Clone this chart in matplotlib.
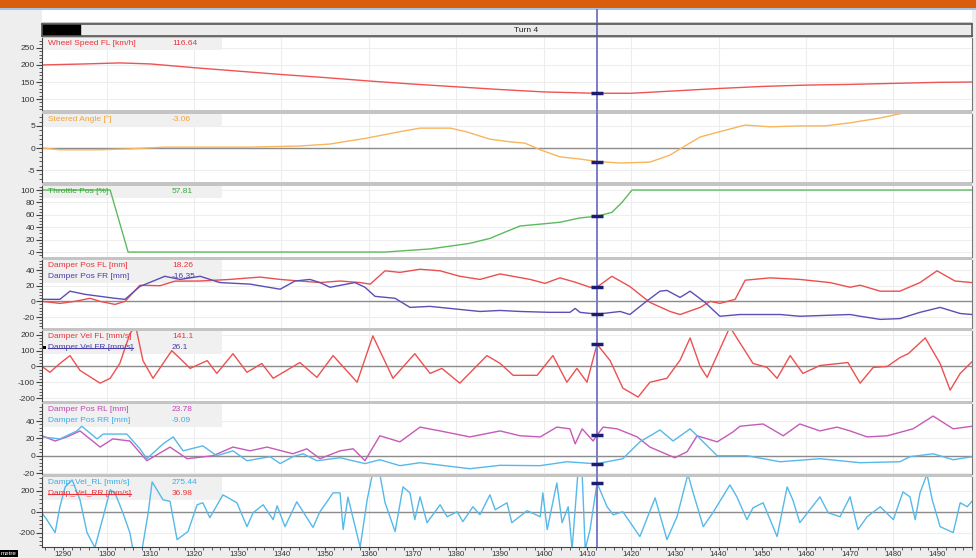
import numpy as np
import matplotlib
matplotlib.use("Agg")
import matplotlib.pyplot as plt
from matplotlib.patches import Rectangle
from matplotlib.lines import Line2D
from matplotlib.ticker import FixedLocator, MultipleLocator, AutoMinorLocator
from matplotlib.transforms import IdentityTransform, blended_transform_factory

plt.rcParams['font.family'] = ['Liberation Sans', 'DejaVu Sans']

# distance axis [metre]
x_range = (1285.2, 1498.0)
cursor_x = 1412.2
x_ticks = list(range(1290, 1500, 10))
segments = [(1280.0, 1294.0, ''), (1294.0, 1500.0, 'Turn 4')]

# Wheel Speed FL [km/h]
speed_x = [1285.2, 1295, 1303, 1310, 1320, 1330, 1340, 1350, 1360, 1370, 1380, 1390,
           1400, 1412, 1420, 1430, 1440, 1450, 1460, 1470, 1480, 1490, 1498]
speed_v = [200, 203, 206, 203, 192, 182, 172, 163, 153, 144, 136, 128,
           121, 117, 117, 124, 131, 137, 141, 143, 146, 149, 150]

# Steered Angle [deg]
steer_x = [1285.2, 1289.3, 1298.5, 1305.3, 1313.3, 1332.8, 1344.2, 1351.1, 1359.3, 1367.1,
           1371.7, 1378.6, 1382.2, 1387.7, 1392.3, 1395.7, 1399.2, 1403.7, 1408.3, 1412.2,
           1417.5, 1424.3, 1428.9, 1431.2, 1435.8, 1440.3, 1446.1, 1451.8, 1458.6, 1464.4,
           1470.1, 1477.0, 1482.2]
steer_v = [0, -0.4, -0.4, -0.2, 0.2, 0.2, 0.45, 0.9, 2.2, 3.7,
           4.5, 4.5, 3.7, 2.0, 1.4, 1.1, -0.4, -2.0, -2.5, -3.06,
           -3.4, -3.2, -1.6, -0.2, 2.5, 3.7, 5.2, 4.8, 5.0, 5.0,
           5.7, 6.8, 7.9]

# Throttle Pos [%]
throttle_x = [1285.2, 1300.8, 1304.9, 1363.7, 1374.0, 1383.1, 1387.7, 1391.1, 1394.6,
              1399.2, 1403.7, 1408.3, 1412.2, 1415.6, 1417.9, 1420.2, 1498.0]
throttle_v = [100, 100, 0, 0, 5, 14, 22, 32, 42, 45, 48, 55, 57.81, 64, 80, 100, 100]

# Damper Pos FL / FR [mm]
dpos_fl_x = [1285.2, 1289.3, 1292.7, 1296.2, 1298.5, 1301.9, 1304.2, 1307.6, 1312.2, 1315.6,
             1321.4, 1328.2, 1335.1, 1339.7, 1344.2, 1348.8, 1353.4, 1358.0, 1360.3, 1363.7,
             1367.1, 1371.7, 1376.3, 1380.8, 1385.4, 1390.0, 1396.9, 1400.3, 1403.7, 1407.2,
             1410.6, 1412.2, 1415.6, 1419.7, 1424.3, 1428.9, 1431.2, 1435.8, 1438.1, 1440.3,
             1443.8, 1446.1, 1451.8, 1458.6, 1465.5, 1470.1, 1472.4, 1477.0, 1481.5, 1486.1,
             1490.0, 1494.1, 1498.0]
dpos_fl_v = [0, -2.6, 0, 3.9, 0, -3.9, 0, 20.6, 20, 25.8,
             26, 28, 31, 28, 26, 24, 26, 24, 22, 39,
             37, 41, 39, 32, 28, 35, 28, 23, 30, 24.5,
             18, 18.26, 32, 19, -1.3, -12.9, -16.8, -7.7, 0, -2.6,
             2.6, 27, 30, 28, 24, 18, 20.6, 13, 13, 24,
             39, 26, 24]
dpos_fr_x = [1285.2, 1289.3, 1291.6, 1295.0, 1298.5, 1301.9, 1304.2, 1307.6, 1313.3, 1316.8,
             1321.4, 1325.9, 1332.8, 1339.7, 1343.1, 1346.5, 1348.8, 1351.1, 1356.8, 1359.1,
             1361.4, 1366.0, 1369.4, 1374.0, 1380.8, 1385.4, 1390.0, 1394.6, 1401.4, 1406.0,
             1407.2, 1408.3, 1412.2, 1417.5, 1419.7, 1423.2, 1426.6, 1428.2, 1431.2, 1433.5,
             1436.9, 1440.3, 1444.9, 1454.1, 1458.6, 1470.1, 1472.4, 1477.0, 1481.5, 1486.1,
             1490.7, 1495.3, 1498.0]
dpos_fr_v = [2.6, 2.6, 13, 9, 6.4, 3.9, 2.6, 19, 32, 28,
             32, 24, 22, 15.5, 26, 28, 24, 18, 24, 18,
             6.4, 3.9, -7.7, -6.4, -10.3, -12.9, -11.6, -12.9, -14, -14,
             -9, -14, -16.35, -12.9, -16.8, -1.3, 13, 14, 5, 13,
             -1.3, -19, -16.8, -16.8, -19, -16.8, -19, -23, -22, -14,
             -7.7, -15.5, -16.8]

# Damper Vel FL [mm/s]
dvel_fl_x = [1285.2, 1287.0, 1289.3, 1291.6, 1293.9, 1298.5, 1300.8, 1303.0, 1305.3, 1306.6,
             1308.3, 1310.6, 1313.8, 1314.9, 1316.8, 1319.1, 1323.0, 1325.2, 1328.9, 1332.1,
             1335.5, 1338.1, 1344.2, 1348.1, 1351.8, 1357.3, 1360.9, 1365.5, 1370.5, 1374.0,
             1376.7, 1380.8, 1387.0, 1390.0, 1393.0, 1398.5, 1402.1, 1405.3, 1407.6, 1409.9,
             1412.2, 1415.2, 1418.1, 1421.6, 1424.3, 1428.2, 1431.2, 1433.5, 1435.8, 1437.4,
             1442.6, 1447.9, 1451.1, 1453.4, 1456.4, 1459.3, 1463.2, 1469.6, 1472.4, 1475.4,
             1478.6, 1481.5, 1483.4, 1487.3, 1490.7, 1493.0, 1495.3, 1498.0]
dvel_fl_v = [0, -37, 19, 69, -25, -106, -75, 19, 206, 260,
             37, -75, 56, 100, 50, -12, 37, -44, 81, -37,
             19, -75, 25, -69, 69, -100, 194, -75, 81, -44,
             -12, -106, 69, 20, -56, -56, 69, -100, -12, -100,
             141.1, 37, -137, -194, -100, -75, 40, 181, 0, -69,
             250, 19, -6, -75, 69, -44, 6, 25, -106, -6,
             0, 56, 81, 181, 19, -150, -44, 30]

# Damper Pos RL / RR [mm]
dpos_rl_x = [1285.2, 1288.2, 1290.9, 1293.9, 1298.5, 1301.4, 1305.3, 1309.2, 1314.5, 1318.4,
             1324.3, 1328.9, 1332.8, 1336.7, 1342.6, 1345.8, 1348.8, 1353.4, 1356.4, 1359.1,
             1362.5, 1367.1, 1371.7, 1376.3, 1383.1, 1390.0, 1394.6, 1399.2, 1403.0, 1406.0,
             1407.2, 1408.8, 1411.3, 1412.2, 1413.6, 1416.8, 1421.4, 1424.3, 1430.0, 1432.8,
             1435.1, 1439.7, 1443.3, 1444.9, 1450.2, 1454.8, 1458.6, 1463.2, 1467.1, 1470.1,
             1474.0, 1478.6, 1484.5, 1489.1, 1493.7, 1498.0]
dpos_rl_v = [23, 17, 21.7, 28.6, 10, 19.4, 17, -5.7, 10, -3.4,
             0, 10, 5.7, 10, 2.3, 8, -3.4, 5.7, 8, -5.7,
             23, 16, 33, 28.6, 21.7, 28.6, 23, 21.7, 33, 31,
             13.7, 31, 17, 23.78, 33, 31, 21.7, 10, -2.3, 4.6,
             23, 16, 27.4, 34, 36.6, 23, 36.6, 28.6, 33, 28.6,
             21.7, 23, 31, 45.7, 31, 34]
dpos_rr_x = [1285.2, 1289.3, 1293.2, 1294.3, 1297.8, 1299.2, 1304.6, 1307.6, 1309.2, 1312.9,
             1315.2, 1317.5, 1322.0, 1325.2, 1328.9, 1332.1, 1337.4, 1339.7, 1342.6, 1344.9,
             1348.1, 1353.4, 1359.1, 1362.5, 1367.1, 1371.7, 1383.1, 1390.0, 1399.2, 1405.3,
             1411.3, 1412.2, 1418.1, 1422.0, 1426.6, 1429.6, 1433.5, 1439.7, 1446.5, 1454.1,
             1463.2, 1472.4, 1481.5, 1483.8, 1489.1, 1493.7, 1498.0]
dpos_rr_v = [21.7, 19.4, 28.6, 34, 19.4, 25, 25, 8, -3.4, 13.7,
             21.7, 5.7, 11.4, 0, 5.7, -5.7, -1.1, -9, -1.1, 2.3,
             -5.7, -2.3, -9, -4.6, -11.4, -8, -14.9, -11, -11.4, -6.9,
             -9, -9.09, -3.4, 16, 29.7, 17, 31, 0, 0, -6.9,
             -3.4, -8, -6.9, -1.1, 2.3, -4.6, -1.1]

# Damp_Vel_RL [mm/s]
dvel_rl_x = [1285.2, 1286.3, 1288.2, 1289.3, 1290.5, 1292.1, 1293.9, 1295.5, 1297.3, 1299.2,
             1300.8, 1301.9, 1303.7, 1305.3, 1306.0, 1308.1, 1309.5, 1310.4, 1312.9, 1314.5,
             1316.1, 1318.6, 1320.7, 1322.0, 1323.6, 1326.6, 1329.8, 1332.1, 1333.5, 1335.8,
             1338.1, 1339.0, 1340.8, 1343.5, 1347.2, 1348.8, 1351.8, 1353.4, 1354.1, 1355.2,
             1358.0, 1359.6, 1360.8, 1362.5, 1363.7, 1366.0, 1367.8, 1369.4, 1370.5, 1371.7,
             1373.3, 1376.3, 1377.9, 1380.2, 1381.5, 1383.8, 1385.4, 1387.7, 1388.9, 1391.6,
             1392.7, 1396.2, 1399.2, 1399.8, 1400.8, 1403.0, 1404.2, 1405.6, 1406.5, 1407.8,
             1408.8, 1409.5, 1410.6, 1412.2, 1414.5, 1415.9, 1418.1, 1422.0, 1425.5, 1428.2,
             1430.5, 1433.0, 1434.2, 1436.5, 1438.7, 1442.6, 1444.2, 1446.5, 1447.9, 1450.2,
             1451.8, 1453.4, 1455.7, 1457.0, 1458.6, 1463.2, 1465.1, 1467.8, 1470.1, 1471.9,
             1474.0, 1477.0, 1480.0, 1482.2, 1483.8, 1485.0, 1486.1, 1487.7, 1488.9, 1490.7,
             1493.7, 1495.3, 1496.9, 1498.0]
dvel_rl_v = [-10, -76, -200, 48, 238, 305, 114, -200, -343, -48,
             210, 181, -10, -200, -360, -360, -10, 286, 114, 100,
             -267, -190, 67, 86, -57, 162, 86, -143, -10, 67,
             -76, 57, -143, 95, -150, 0, 181, 181, -170, 140,
             -340, 114, 360, 360, 86, -190, 238, 181, -76, 143,
             -105, 67, -48, 0, -95, 48, -29, 162, 19, 86,
             -105, 10, -48, 181, -171, 276, -105, 48, -360, 360,
             360, -360, -171, 275.44, 48, -29, 0, -238, 133, -267,
             -48, 360, 181, -143, -10, 257, 143, -76, 38, 86,
             -76, -238, 238, 114, -105, 143, -10, -48, 143, -171,
             -48, 48, -76, 190, 143, -76, 181, 360, 114, -143,
             -200, 86, 48, 100]

throttle_ticklabels = ['-0', '20', '40', '60', '80', '100']

W, H = 976, 558
L, R = 42, 972

fig = plt.figure(figsize=(W / 100, H / 100), dpi=100)
fig.patch.set_facecolor('#eeeeee')


def fbox(left, top, right, bottom):
    return [left / W, 1 - bottom / H, (right - left) / W, (bottom - top) / H]


# frame pieces
fig.add_artist(Rectangle((L / W, 1 - 548 / H), (R - L) / W, (548 - 22) / H,
                         transform=fig.transFigure, fc='#c4c4c4', ec='none', zorder=-5))
fig.add_artist(Rectangle((0, 1 - 8 / H), 1, 8 / H, transform=fig.transFigure,
                         fc='#d95d0b', ec='none', zorder=-4))
fig.add_artist(Rectangle((0, 1 - 10 / H), 1, 2 / H, transform=fig.transFigure,
                         fc='#a9c2dc', ec='none', zorder=-4))

# white band and segment bar
wax = fig.add_axes(fbox(L, 10, R, 22))
wax.set_xlim(x_range)
wax.axis('off')
wax.add_patch(Rectangle((0, 0), 1, 1, transform=wax.transAxes, fc='white', ec='none'))
wax.axvline(cursor_x, color='#7b7bc8', lw=1.4)

hax = fig.add_axes(fbox(L, 24, R, 36))
hax.set_xlim(x_range)
hax.set_ylim(0, 1)
hax.set_facecolor('#ececec')
hax.set_xticks([])
hax.set_yticks([])
for sp in hax.spines.values():
    sp.set_color('#555555')
    sp.set_linewidth(1.2)
for s0, s1, name in segments:
    if name == '':
        hax.axvspan(s0, s1, color='black')
    else:
        hax.text((max(s0, x_range[0]) + min(s1, x_range[1])) / 2, 0.45, name,
                 ha='center', va='center', fontsize=6, color='#222222')
hax.axvline(cursor_x, color='#7b7bc8', lw=1.4)

panels = [
    dict(top=38, bottom=110, ylim=(68, 279), yticks=[100, 150, 200, 250], minor=5, zero=False,
         series=[(speed_x, speed_v, '#ef5353', True)],
         legend=[('Wheel Speed FL [km/h]', '116.64', '#e8343c', False)]),
    dict(top=114, bottom=182, ylim=(-7.7, 7.7), yticks=[-5, 0, 5], minor=5, zero=True,
         series=[(steer_x, steer_v, '#f7b55c', True)],
         legend=[('Steered Angle [\u00b0]', '-3.06', '#f2a33a', False)]),
    dict(top=186, bottom=257, ylim=(-8, 106.5), yticks=[0, 20, 40, 60, 80, 100], minor=4,
         zero=False, labels=throttle_ticklabels,
         series=[(throttle_x, throttle_v, '#5cbb5c', True)],
         legend=[('Throttle Pos [%]', '57.81', '#3aa63a', False)]),
    dict(top=260, bottom=328, ylim=(-34, 52.8), yticks=[-20, 0, 20, 40], minor=5, zero=True,
         series=[(dpos_fl_x, dpos_fl_v, '#ec4f4f', True),
                 (dpos_fr_x, dpos_fr_v, '#5a4fb4', True)],
         legend=[('Damper Pos FL [mm]', '18.26', '#e8343c', False),
                 ('Damper Pos FR [mm]', '-16.35', '#4a40a8', False)]),
    dict(top=331, bottom=401, ylim=(-219, 225), yticks=[-200, -100, 0, 100, 200], minor=5,
         zero=True,
         series=[(dvel_fl_x, dvel_fl_v, '#ee5050', True)],
         legend=[('Damper Vel FL [mm/s]', '141.1', '#e8343c', False),
                 ('Damper Vel FR [mm/s]', '26.1', '#4a40a8', True)]),
    dict(top=404, bottom=474, ylim=(-21, 59.6), yticks=[-20, 0, 20, 40], minor=5, zero=True,
         series=[(dpos_rl_x, dpos_rl_v, '#c65ab8', True),
                 (dpos_rr_x, dpos_rr_v, '#55b9ea', True)],
         legend=[('Damper Pos RL [mm]', '23.78', '#c245b2', False),
                 ('Damper Pos RR [mm]', '-9.09', '#3aaee6', False)]),
    dict(top=477, bottom=547, ylim=(-338, 333), yticks=[-200, 0, 200], minor=5, zero=True,
         series=[(dvel_rl_x, dvel_rl_v, '#55b9ea', True)],
         legend=[('Damp_Vel_RL [mm/s]', '275.44', '#3aaee6', False),
                 ('Damp_Vel_RR [mm/s]', '36.98', '#e8343c', True)]),
]

struck = []
axes = []
for i, p in enumerate(panels):
    last = i == len(panels) - 1
    ax = fig.add_axes(fbox(L, p['top'], R, p['bottom']))
    axes.append(ax)
    ax.set_facecolor('white')
    ax.set_xlim(x_range)
    ax.set_ylim(p['ylim'])
    ax.set_axisbelow(True)
    ax.yaxis.set_major_locator(FixedLocator(p['yticks']))
    ax.set_yticklabels(p.get('labels', [str(t) for t in p['yticks']]))
    ax.yaxis.set_minor_locator(AutoMinorLocator(p['minor']))
    ax.tick_params(axis='y', which='major', direction='out', length=4, width=0.8,
                   color='#444444', labelsize=6, labelcolor='#333333', pad=1)
    ax.tick_params(axis='y', which='minor', direction='out', length=2, width=0.6,
                   color='#444444')
    ax.xaxis.set_major_locator(FixedLocator(x_ticks))
    ax.xaxis.set_minor_locator(MultipleLocator(2))
    if last:
        ax.tick_params(axis='x', which='major', direction='out', length=2.5, width=0.8,
                       color='#444444', labelsize=5.6, labelcolor='#333333', pad=0.5)
        ax.tick_params(axis='x', which='minor', direction='out', length=1.8, width=0.6,
                       color='#444444')
        ax.spines['bottom'].set_color('#444444')
    else:
        ax.tick_params(axis='x', which='both', bottom=False, labelbottom=False)
        ax.spines['bottom'].set_visible(False)
    ax.spines['top'].set_visible(False)
    ax.spines['left'].set_color('#444444')
    ax.spines['right'].set_color('#777777')

    # faint grid
    for gx in range(1300, 1500, 20):
        ax.axvline(gx, color='#ededed', lw=0.8, zorder=0.3)
    ax.yaxis.grid(True, color='#eeeeee', lw=0.8)

    ph = p['bottom'] - p['top']
    hbox = 11 * len(p['legend']) + 1
    ax.add_patch(Rectangle((0, 1 - hbox / ph), (222 - L) / (R - L), hbox / ph,
                           transform=ax.transAxes, fc='#f0f0f0', ec='none', zorder=0.6))
    if p['zero']:
        ax.axhline(0, color='#8c8c8c', lw=1.0, zorder=1)

    for xs, vs, c, vis in p['series']:
        if vis:
            ax.plot(xs, vs, color=c, lw=1.0, zorder=2)
    ax.axvline(cursor_x, color='#7b7bc8', lw=1.4, zorder=3)
    for xs, vs, c, vis in p['series']:
        if vis:
            ax.plot([cursor_x], [np.interp(cursor_x, xs, vs)], marker='_', ms=9,
                    mew=2.5, color='#1c1c70', zorder=4, clip_on=False)

    for j, (lab, val, c, hidden) in enumerate(p['legend']):
        yy = 1 - (p['top'] + 5.5 + 11 * j) / H
        t = fig.text(48 / W, yy, lab, fontsize=6, color=c, va='center', ha='left')
        fig.text(172 / W, yy, val, fontsize=6, color=c, va='center', ha='left')
        if hidden:
            struck.append(t)

# indicator square in front of the hidden front-right velocity
fig.add_artist(Rectangle((43 / W, 1 - 349 / H), 3 / W, 3 / H, transform=fig.transFigure,
                         fc='black', ec='none'))

# cursor through the separators
blend = blended_transform_factory(axes[-1].transData, fig.transFigure)
fig.add_artist(Line2D([cursor_x, cursor_x], [1 - 547 / H, 1 - 10 / H], transform=blend,
                      color='#7b7bc8', lw=1.4, zorder=-1))

fig.text(1 / W, 1 - 553.5 / H, 'metre', fontsize=4.5, color='white', va='center', ha='left',
         bbox=dict(facecolor='black', edgecolor='none', pad=0.6))

fig.canvas.draw()
for t in struck:
    bb = t.get_window_extent()
    ym = bb.y0 + 0.45 * bb.height
    fig.add_artist(Line2D([bb.x0, bb.x1], [ym, ym], transform=IdentityTransform(),
                          color=t.get_color(), lw=0.8))

fig.savefig('out.png', dpi=100, facecolor=fig.get_facecolor())
